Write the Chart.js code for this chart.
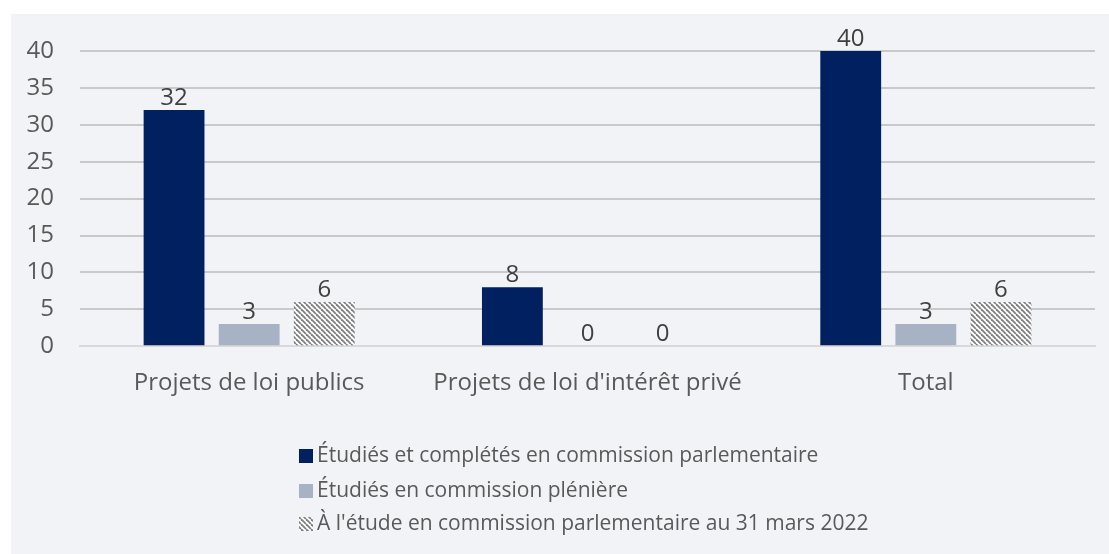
<!DOCTYPE html>
<html>
<head>
<meta charset="utf-8">
<script src="https://cdn.jsdelivr.net/npm/chart.js@4.4.1/dist/chart.umd.min.js"></script>
<style>
  body { margin: 0; background: #ffffff; }
  #panel {
    position: absolute; left: 11px; top: 14px;
    width: 1098px; height: 540px;
    background: #f2f3f7;
  }
</style>
</head>
<body>
<div id="panel"><canvas id="chart" width="1098" height="540"></canvas></div>
<script>
// data
const categories = ["Projets de loi publics", "Projets de loi d'intérêt privé", "Total"];
const seriesNames = [
  "Étudiés et complétés en commission parlementaire",
  "Étudiés en commission plénière",
  "À l'étude en commission parlementaire au 31 mars 2022"
];
const completed = [32, 8, 40];
const plenary = [3, 0, 3];
const underStudy = [6, 0, 6];
const yTicks = [0, 5, 10, 15, 20, 25, 30, 35, 40];

const FONT = "'Open Sans', sans-serif";

// hatch pattern for the third series
function makeHatch() {
  let s = 5;
  let c = document.createElement("canvas");
  c.width = s; c.height = s;
  let g = c.getContext("2d");
  g.fillStyle = "#ffffff";
  g.fillRect(0, 0, s, s);
  g.strokeStyle = "#808080";
  g.lineWidth = 1.8;
  [-s, 0, s].forEach(k => {
    g.beginPath();
    g.moveTo(k, 0);
    g.lineTo(k + s, s);
    g.stroke();
  });
  return g.createPattern(c, "repeat");
}
const hatch = makeHatch();

// value labels above bars
const valueLabels = {
  id: "valueLabels",
  afterDatasetsDraw(chart) {
    let ctx = chart.ctx;
    ctx.save();
    ctx.font = "24px " + FONT;
    ctx.fillStyle = "#404040";
    ctx.textAlign = "center";
    ctx.textBaseline = "alphabetic";
    chart.data.datasets.forEach((ds, i) => {
      chart.getDatasetMeta(i).data.forEach((bar, j) => {
        ctx.fillText(String(ds.data[j]), bar.x, bar.y - 5);
      });
    });
    ctx.restore();
  }
};

// vertical legend under the axis
const stackedLegend = {
  id: "stackedLegend",
  afterDraw(chart) {
    let ctx = chart.ctx;
    let x = 288, rows = [442, 477, 510];
    ctx.save();
    ctx.font = "21px " + FONT;
    ctx.textBaseline = "middle";
    chart.data.datasets.forEach((ds, i) => {
      let yy = rows[i];
      ctx.fillStyle = ds.backgroundColor;
      ctx.fillRect(x, yy - 7, 14, 14);
      ctx.fillStyle = "#595959";
      ctx.fillText(ds.label, x + 18, yy);
    });
    ctx.restore();
  }
};

new Chart(document.getElementById("chart"), {
  type: "bar",
  data: {
    labels: categories,
    datasets: [
      { label: seriesNames[0], data: completed, backgroundColor: "#002060" },
      { label: seriesNames[1], data: plenary, backgroundColor: "#a7b3c4" },
      { label: seriesNames[2], data: underStudy, backgroundColor: hatch }
    ]
  },
  options: {
    responsive: false,
    animation: false,
    devicePixelRatio: 1,
    barPercentage: 0.81,
    categoryPercentage: 0.666,
    layout: { padding: { top: 37, right: 14, bottom: 133, left: 0 } },
    plugins: {
      legend: { display: false },
      tooltip: { enabled: false }
    },
    scales: {
      x: {
        grid: { display: false, drawTicks: false },
        border: { color: "#d9d9d9", width: 2 },
        ticks: { color: "#595959", font: { family: FONT, size: 24 }, padding: 23 }
      },
      y: {
        min: 0,
        max: 40,
        afterBuildTicks(axis) { axis.ticks = yTicks.map(v => ({ value: v })); },
        afterFit(axis) {
          axis.width = 69;
          axis.paddingTop = 0;
        },
        grid: { color: "#c9c9c9", lineWidth: 2, drawTicks: false },
        border: { display: false },
        ticks: { color: "#595959", font: { family: FONT, size: 24 }, padding: 26 }
      }
    }
  },
  plugins: [valueLabels, stackedLegend]
});
</script>
</body>
</html>
